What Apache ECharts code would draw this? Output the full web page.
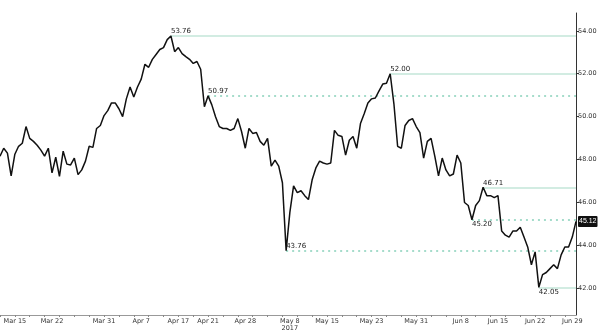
<!DOCTYPE html>
<html>
<head>
<meta charset="utf-8">
<script src="https://cdn.jsdelivr.net/npm/echarts@6/dist/echarts.min.js"></script>
<style>html,body{margin:0;padding:0;background:#fff}#c{width:600px;height:332px}</style>
</head>
<body>
<div id="c"></div>
<script>
// Trading days (two intraday samples per day)
const days = [
 'Mar 13','Mar 14','Mar 15','Mar 16','Mar 17','Mar 20','Mar 21','Mar 22','Mar 23','Mar 24','Mar 27','Mar 28','Mar 29','Mar 30','Mar 31',
 'Apr 3','Apr 4','Apr 5','Apr 6','Apr 7','Apr 10','Apr 11','Apr 12','Apr 13','Apr 17','Apr 18','Apr 19','Apr 20','Apr 21','Apr 24','Apr 25','Apr 26','Apr 27','Apr 28',
 'May 1','May 2','May 3','May 4','May 5','May 8','May 9','May 10','May 11','May 12','May 15','May 16','May 17','May 18','May 19','May 22','May 23','May 24','May 25','May 26','May 29','May 30','May 31',
 'Jun 1','Jun 2','Jun 5','Jun 6','Jun 7','Jun 8','Jun 9','Jun 12','Jun 13','Jun 14','Jun 15','Jun 16','Jun 19','Jun 20','Jun 21','Jun 22','Jun 23','Jun 26','Jun 27','Jun 28','Jun 29'
];
const tickLabels = ['Mar 15','Mar 22','Mar 31','Apr 7','Apr 17','Apr 21','Apr 28','May 8','May 15','May 23','May 31','Jun 8','Jun 15','Jun 22','Jun 29'];
const prices = [
48.16, 48.53, 48.30, 47.24, 48.25, 48.62, 48.76, 49.54, 48.99, 48.85,
48.67, 48.44, 48.16, 48.53, 47.38, 48.11, 47.22, 48.39, 47.79, 47.75,
48.07, 47.30, 47.52, 47.93, 48.62, 48.57, 49.45, 49.59, 50.05, 50.28,
50.64, 50.64, 50.37, 50.00, 50.83, 51.38, 50.92, 51.38, 51.75, 52.44,
52.30, 52.67, 52.90, 53.13, 53.22, 53.59, 53.76, 53.03, 53.22, 52.94,
52.80, 52.67, 52.48, 52.57, 52.21, 50.46, 50.97, 50.55, 50.00, 49.54,
49.45, 49.45, 49.36, 49.45, 49.91, 49.31, 48.53, 49.45, 49.22, 49.26,
48.85, 48.67, 48.99, 47.70, 47.98, 47.70, 46.92, 43.76, 45.54, 46.78,
46.46, 46.55, 46.32, 46.14, 47.06, 47.61, 47.93, 47.84, 47.79, 47.84,
49.36, 49.13, 49.08, 48.21, 48.90, 49.08, 48.53, 49.68, 50.14, 50.64,
50.83, 50.87, 51.20, 51.52, 51.56, 52.00, 50.60, 48.62, 48.53, 49.59,
49.82, 49.91, 49.54, 49.26, 48.07, 48.85, 48.99, 48.16, 47.24, 48.07,
47.52, 47.24, 47.33, 48.21, 47.84, 46.00, 45.86, 45.20, 45.86, 46.09,
46.71, 46.32, 46.32, 46.23, 46.32, 44.67, 44.48, 44.39, 44.67, 44.67,
44.85, 44.39, 43.93, 43.10, 43.70, 42.05, 42.64, 42.74, 42.92, 43.10,
42.92, 43.56, 43.93, 43.93, 44.39, 45.12
];
// Key levels: [value, style, label side]
const levels = [
 [53.76, 'solid', 'top'],
 [50.97, 'dotted', 'top'],
 [43.76, 'dotted', 'top'],
 [52.00, 'solid', 'top'],
 [46.71, 'solid', 'top'],
 [45.20, 'dotted', 'bottom'],
 [42.05, 'solid', 'bottom']
];
const lastValue = 45.12;

const slots = [];
days.forEach(d => { slots.push(d); slots.push(d + ' '); });
const lastIdx = prices.length - 1;

const markData = levels.map(([v, style, side]) => {
  const start = prices.indexOf(v);
  return [
    { coord: [start, v],
      lineStyle: style === 'solid'
        ? { color: '#c3e6d9', width: 1.5, type: 'solid' }
        : { color: '#88d1ba', width: 1.5, type: [2, 4] },
      label: { show: true, position: side === 'top' ? 'insideStartTop' : 'insideStartBottom',
               formatter: v.toFixed(2), color: '#222', fontSize: 7, distance: [0, 1],
               fontFamily: 'DejaVu Sans' } },
    { coord: [lastIdx, v] }
  ];
});

const chart = echarts.init(document.getElementById('c'));
chart.setOption({
  animation: false,
  backgroundColor: '#fff',
  grid: { left: 0, right: 24, top: 13, bottom: 13 },
  xAxis: {
    type: 'category',
    data: slots,
    boundaryGap: false,
    axisLine: { lineStyle: { color: '#999', width: 1 } },
    axisTick: { show: true, length: 2, interval: (i) => i % 4 === 0, lineStyle: { color: '#888' } },
    axisLabel: {
      interval: (i, v) => i % 2 === 0 && tickLabels.includes(v),
      formatter: v => v === 'May 8' ? 'May 8\n2017' : v,
      fontSize: 6.5, color: '#333', margin: 3, lineHeight: 7, fontFamily: 'DejaVu Sans'
    },
    splitLine: { show: false }
  },
  yAxis: {
    type: 'value',
    position: 'right',
    min: 40.76,
    max: 54.83,
    splitNumber: 7,
    axisLine: { show: true, lineStyle: { color: '#333', width: 1 } },
    axisTick: { show: true, length: 3, lineStyle: { color: '#333' } },
    axisLabel: { showMinLabel: false, showMaxLabel: false, formatter: v => v.toFixed(2),
                 fontSize: 6.5, color: '#333', margin: 2, fontFamily: 'DejaVu Sans' },
    splitLine: { show: false }
  },
  series: [{
    type: 'line',
    data: prices,
    showSymbol: false,
    symbol: 'none',
    lineStyle: { color: '#111', width: 1.5 },
    z: 3,
    markLine: { silent: true, symbol: ['none', 'none'], data: markData, z: 1 },
    markPoint: {
      silent: true,
      symbol: 'circle', symbolSize: 0,
      data: [{ coord: [lastIdx, lastValue] }],
      label: { show: true, position: 'right', distance: 2, formatter: lastValue.toFixed(2),
               color: '#fff', backgroundColor: '#111', padding: [2, 1], borderRadius: 1,
               fontSize: 7, fontFamily: 'Liberation Sans' }
    }
  }]
});
</script>
</body>
</html>
